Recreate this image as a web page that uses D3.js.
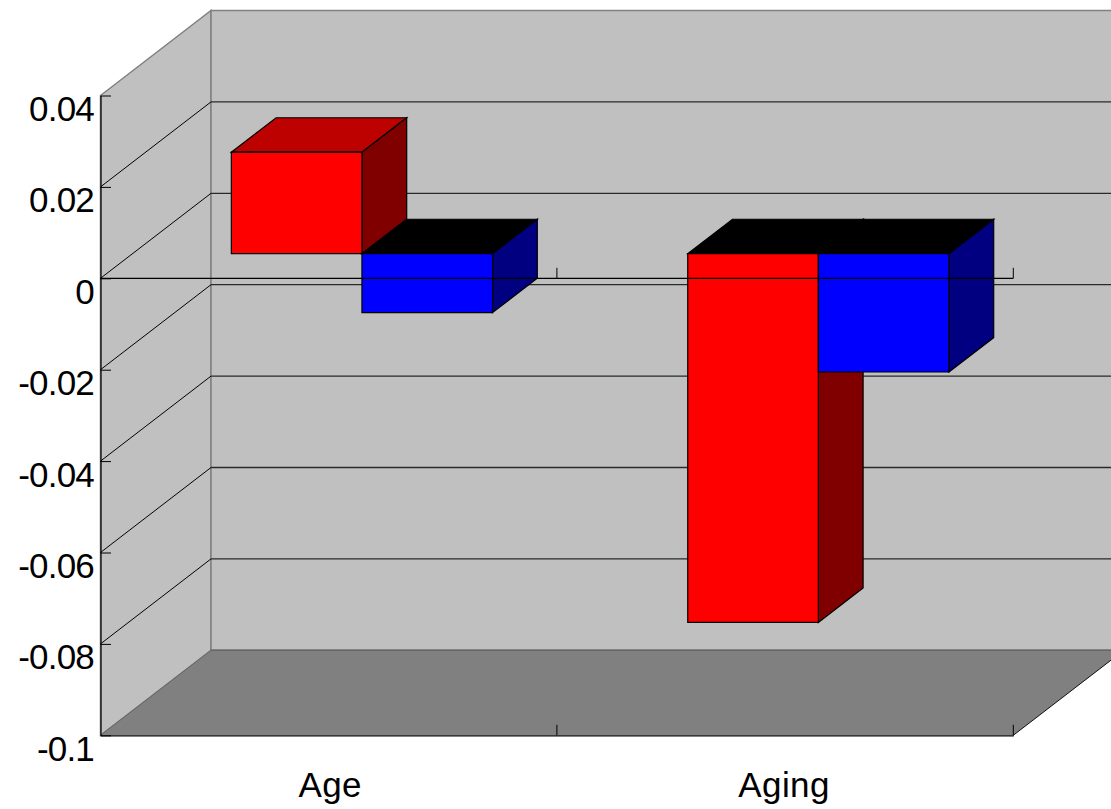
<!DOCTYPE html>
<html>
<head>
<meta charset="utf-8">
<script src="https://cdn.jsdelivr.net/npm/d3@7"></script>
<style>
html,body{margin:0;padding:0;background:#fff;overflow:hidden}
svg{display:block}
text{font-family:"Liberation Sans",Arial,sans-serif;fill:#000}
</style>
</head>
<body>
<script>
const categories = ["Age", "Aging"];
const seriesNames = ["Group 1", "Group 2"];
const valuesGroup1 = [0.0222, -0.0807];
const valuesGroup2 = [-0.0129, -0.0259];
const yTicks = [0.04, 0.02, 0, -0.02, -0.04, -0.06, -0.08, -0.1];
const frontColors = ["#ff0000", "#0000ff"];
const sideColors = ["#800000", "#000080"];
const topColors = [["#bd0000", "#000000"], ["#000000", "#000000"]];

const W = 1111, H = 809;
const svg = d3.select("body").append("svg").attr("width", W).attr("height", H);

const y = d3.scaleLinear().domain([-0.1, 0.04]).range([735.3, 95.5]);
const x = d3.scaleBand().domain(categories).range([100.5, 1013.3]);
const xGroup = d3.scaleBand().domain(seriesNames).range([98.8, 98.8 + 261.2]);
const DX = 110.5, DY = 85;
const depthFront = 0.29, depthBack = 0.695;
const [yMin, yMax] = y.domain();
const xL = x.range()[0], xR = x.range()[1];

const pt = (px, v, d) => [px + d * DX, y(v) - d * DY];
const poly = pts => d3.line()(pts) + "Z";

const walls = svg.append("g");
walls.append("path")
  .attr("d", poly([pt(xL, yMin, 0), pt(xL, yMin, 1), pt(xL, yMax, 1), pt(xL, yMax, 0)]))
  .attr("fill", "#c0c0c0").attr("stroke", "#808080").attr("stroke-width", 1.5);
walls.append("path")
  .attr("d", poly([pt(xL, yMin, 1), pt(xR, yMin, 1), pt(xR, yMax, 1), pt(xL, yMax, 1)]))
  .attr("fill", "#c0c0c0").attr("stroke", "#808080").attr("stroke-width", 1.5);
walls.append("path")
  .attr("d", poly([pt(xL, yMin, 0), pt(xR, yMin, 0), pt(xR, yMin, 1), pt(xL, yMin, 1)]))
  .attr("fill", "#808080");
walls.append("path").attr("d", d3.line()([pt(xL, yMin, 1), pt(xR, yMin, 1)]))
  .attr("stroke", "#666666").attr("stroke-width", 1.5).attr("fill", "none");
walls.append("path").attr("d", d3.line()([pt(xL, yMin, 0), pt(xL, yMin, 1)]))
  .attr("stroke", "#666666").attr("stroke-width", 1).attr("fill", "none");
walls.append("path").attr("d", d3.line()([pt(xR, yMin, 0), pt(xR, yMin, 1)]))
  .attr("stroke", "#111").attr("stroke-width", 1).attr("fill", "none");

const gridVals = yTicks.filter(v => v !== yMin && v !== yMax);
const grid = svg.append("g").attr("fill", "none");
grid.selectAll(".side").data(gridVals).join("path").attr("class", "side")
  .attr("d", v => d3.line()([pt(xL, v, 0), pt(xL, v, 1)])).attr("stroke", "#000").attr("stroke-width", 1);
grid.selectAll(".back").data(gridVals).join("path").attr("class", "back")
  .attr("d", v => d3.line()([pt(xL, v, 1), pt(xR, v, 1)])).attr("stroke", "#2a2a2a").attr("stroke-width", 1.3);

const seriesValues = [valuesGroup1, valuesGroup2];
const bars = svg.append("g").attr("stroke", "#000").attr("stroke-width", 1.2).attr("stroke-linejoin", "miter");
categories.forEach((c, ci) => {
  seriesNames.forEach((s, si) => {
    const v = seriesValues[si][ci];
    const x0 = x(c) + xGroup(s), x1 = x0 + xGroup.bandwidth();
    const hi = Math.max(v, 0), lo = Math.min(v, 0);
    const g = bars.append("g");
    g.append("path").attr("fill", topColors[ci][si])
      .attr("d", poly([pt(x0, hi, depthFront), pt(x1, hi, depthFront), pt(x1, hi, depthBack), pt(x0, hi, depthBack)]));
    g.append("path").attr("fill", sideColors[si])
      .attr("d", poly([pt(x1, lo, depthFront), pt(x1, hi, depthFront), pt(x1, hi, depthBack), pt(x1, lo, depthBack)]));
    g.append("path").attr("fill", frontColors[si])
      .attr("d", poly([pt(x0, lo, depthFront), pt(x1, lo, depthFront), pt(x1, hi, depthFront), pt(x0, hi, depthFront)]));
  });
});

const axisG = svg.append("g");
const yAxis = d3.axisLeft(y).tickValues(yTicks).tickFormat(d => String(d))
  .tickSizeInner(-10.5).tickSizeOuter(0).tickPadding(5);
const ya = axisG.append("g").attr("transform", `translate(${xL},0)`).call(yAxis);
ya.select(".domain").attr("stroke", "#000").attr("stroke-width", 1.2);
ya.selectAll(".tick line").attr("stroke", "#000").attr("stroke-width", 1);
ya.selectAll(".tick text")
  .style("font-family", '"Liberation Sans",Arial,sans-serif')
  .style("font-size", "35px").style("letter-spacing", "-0.8px")
  .attr("dy", "0").attr("y", 25).attr("x", -6.5).attr("text-anchor", "end");

const xAxis = d3.axisBottom(x).tickSize(0).tickPadding(0);
const xa = axisG.append("g").attr("transform", `translate(0,${y(yMin)})`).call(xAxis);
xa.select(".domain").attr("stroke", "#000").attr("stroke-width", 1.2);
xa.selectAll(".tick text")
  .style("font-family", '"Liberation Sans",Arial,sans-serif')
  .style("font-size", "35px").style("letter-spacing", "0.4px")
  .attr("dy", "0").attr("y", 62).attr("dx", (d, i) => i === 0 ? 1.5 : -1);

const edgeTicks = categories.map(c => x(c) + x.bandwidth());
[yMin, 0].forEach(v => {
  axisG.append("g").selectAll("line").data(edgeTicks).join("line")
    .attr("x1", d => d).attr("x2", d => d)
    .attr("y1", y(v)).attr("y2", y(v) - 10.5)
    .attr("stroke", "#000").attr("stroke-width", 1);
});
axisG.append("line").attr("x1", xL).attr("x2", xR).attr("y1", y(0)).attr("y2", y(0))
  .attr("stroke", "#000").attr("stroke-width", 1.2);
</script>
</body>
</html>
